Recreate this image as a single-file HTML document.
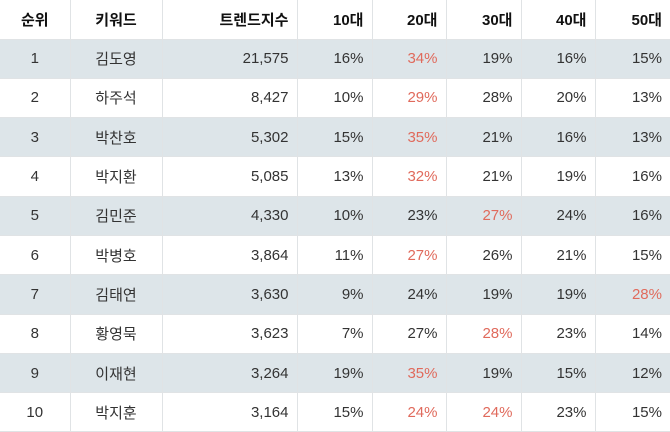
<!DOCTYPE html>
<html><head><meta charset="utf-8"><style>
html,body{margin:0;padding:0;background:#fff}
table{border-collapse:collapse;width:670px;table-layout:fixed;font-family:"Liberation Sans","Noto Sans CJK KR",sans-serif;font-size:15px;color:#333}
th,td{border:1px solid #e0e3e5;padding:0 8px 0 4px;text-align:right;box-sizing:border-box}
thead tr{height:39px}
tbody tr{height:39.3px}
tr:first-child th{border-top:none}
th:first-child,td:first-child{border-left:none}
th:last-child,td:last-child{border-right:none}
th{font-weight:bold;color:#111}
th.c,td.c{text-align:center;padding:0}
tbody tr:nth-child(odd){background:#dde5e9}
.r{color:#e06a5c}
</style></head><body>
<table>
<colgroup><col style="width:70px"><col style="width:92px"><col style="width:135px"><col style="width:75px"><col style="width:74px"><col style="width:75px"><col style="width:74px"><col style="width:75px"></colgroup>
<thead><tr>
<th class="c">순위</th>
<th class="c">키워드</th>
<th>트렌드지수</th>
<th>10대</th>
<th>20대</th>
<th>30대</th>
<th>40대</th>
<th>50대</th>
</tr></thead>
<tbody>
<tr><td class="c">1</td><td class="c">김도영</td><td>21,575</td><td>16%</td><td class="r">34%</td><td>19%</td><td>16%</td><td>15%</td></tr>
<tr><td class="c">2</td><td class="c">하주석</td><td>8,427</td><td>10%</td><td class="r">29%</td><td>28%</td><td>20%</td><td>13%</td></tr>
<tr><td class="c">3</td><td class="c">박찬호</td><td>5,302</td><td>15%</td><td class="r">35%</td><td>21%</td><td>16%</td><td>13%</td></tr>
<tr><td class="c">4</td><td class="c">박지환</td><td>5,085</td><td>13%</td><td class="r">32%</td><td>21%</td><td>19%</td><td>16%</td></tr>
<tr><td class="c">5</td><td class="c">김민준</td><td>4,330</td><td>10%</td><td>23%</td><td class="r">27%</td><td>24%</td><td>16%</td></tr>
<tr><td class="c">6</td><td class="c">박병호</td><td>3,864</td><td>11%</td><td class="r">27%</td><td>26%</td><td>21%</td><td>15%</td></tr>
<tr><td class="c">7</td><td class="c">김태연</td><td>3,630</td><td>9%</td><td>24%</td><td>19%</td><td>19%</td><td class="r">28%</td></tr>
<tr><td class="c">8</td><td class="c">황영묵</td><td>3,623</td><td>7%</td><td>27%</td><td class="r">28%</td><td>23%</td><td>14%</td></tr>
<tr><td class="c">9</td><td class="c">이재현</td><td>3,264</td><td>19%</td><td class="r">35%</td><td>19%</td><td>15%</td><td>12%</td></tr>
<tr><td class="c">10</td><td class="c">박지훈</td><td>3,164</td><td>15%</td><td class="r">24%</td><td class="r">24%</td><td>23%</td><td>15%</td></tr>
</tbody></table>
</body></html>
